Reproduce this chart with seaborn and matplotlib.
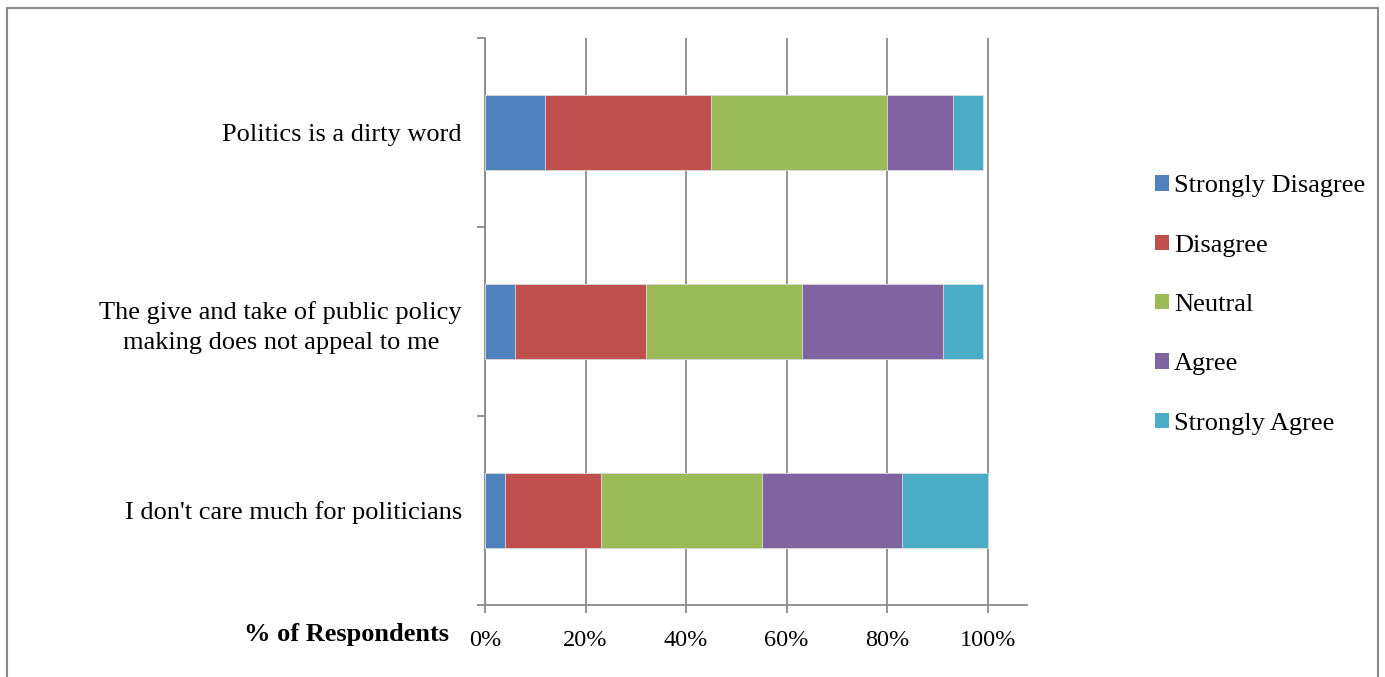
import numpy as np
import pandas as pd
import matplotlib
matplotlib.use("Agg")
import matplotlib.pyplot as plt
from matplotlib.patches import Patch
from matplotlib.lines import Line2D
import seaborn as sns

# Data (% of respondents)
statements = [
    "Politics is a dirty word",
    "The give and take of public policy\nmaking does not appeal to me",
    "I don't care much for politicians",
]
responses = ["Strongly Disagree", "Disagree", "Neutral", "Agree", "Strongly Agree"]
strongly_disagree = [12, 6, 4]
disagree = [33, 26, 19]
neutral = [35, 31, 32]
agree = [13, 28, 28]
strongly_agree = [6, 8, 17]
colors = ["#4F81BD", "#C0504D", "#9BBB59", "#8064A2", "#4BACC6"]

df = pd.DataFrame({
    "statement": statements,
    "Strongly Disagree": strongly_disagree,
    "Disagree": disagree,
    "Neutral": neutral,
    "Agree": agree,
    "Strongly Agree": strongly_agree,
})
cum = df[responses].cumsum(axis=1)

sns.set_style("white")
plt.rcParams["font.family"] = ["Liberation Serif", "DejaVu Serif"]
plt.rcParams["text.color"] = "black"
plt.rcParams["xtick.color"] = "black"
plt.rcParams["ytick.color"] = "black"

fig = plt.figure(figsize=(13.85, 6.77), dpi=100)
ax = fig.add_axes([0.3502, 0.1064, 0.3913, 0.8375])

# stacked bars: draw cumulative totals from the right-most segment down
for resp, col in reversed(list(zip(responses, colors))):
    sns.barplot(x=cum[resp].values, y=df["statement"], color=col, orient="h",
                width=0.4, saturation=1, edgecolor="#dddddd", linewidth=0.6,
                ax=ax, zorder=3)

grid_col = "#8a8a8a"
ax.set_xlim(0, 107.8)
ax.set_ylim(2.5, -0.5)
ax.set_xticks(np.arange(0, 101, 20))
ax.set_xticklabels([f"{v}%" for v in range(0, 101, 20)], fontsize=17.5)
ax.xaxis.grid(True, color=grid_col, linewidth=1.3, zorder=0)
ax.set_axisbelow(True)
ax.set_xlabel("")
ax.set_ylabel("")

ax.set_yticks([0, 1, 2])
ax.set_yticklabels(statements, fontsize=19, linespacing=1.45)
ax.tick_params(axis="y", length=0, pad=16.5, labelcolor="black")
for lbl in ax.get_yticklabels():
    lbl.set_horizontalalignment("right")
    lbl.set_multialignment("center")
ax.set_yticks([-0.5, 0.5, 1.5, 2.5], minor=True)
ax.tick_params(axis="y", which="minor", left=True, length=6, color=grid_col,
               width=1.3, direction="out")
ax.tick_params(axis="x", bottom=True, length=6, color=grid_col, width=1.3,
               direction="out", pad=12, labelcolor="black")

for side in ["top", "right"]:
    ax.spines[side].set_visible(False)
for side in ["left", "bottom"]:
    ax.spines[side].set_color(grid_col)
    ax.spines[side].set_linewidth(1.3)

fig.text(347 / 1385, 1 - 634 / 677, "% of Respondents", fontsize=19,
         fontweight="bold", ha="center", va="center")

handles = [Patch(facecolor=c, edgecolor="none") for c in colors]
fig.legend(handles, responses, loc="upper left", bbox_to_anchor=(1142 / 1385, 1 - 162 / 677),
           frameon=False, fontsize=19, handlelength=0.53, handleheight=0.53,
           handletextpad=0.18, labelspacing=1.41, borderpad=0)

# outer chart border
fig.add_artist(Line2D([7 / 1385, 7 / 1385], [0, 1 - 8 / 677], color=grid_col, lw=1.5))
fig.add_artist(Line2D([7 / 1385, 1378 / 1385], [1 - 8 / 677, 1 - 8 / 677], color=grid_col, lw=1.5))
fig.add_artist(Line2D([1378 / 1385, 1378 / 1385], [0, 1 - 8 / 677], color=grid_col, lw=1.5))

fig.savefig("out.png", dpi=100)
plt.close(fig)
